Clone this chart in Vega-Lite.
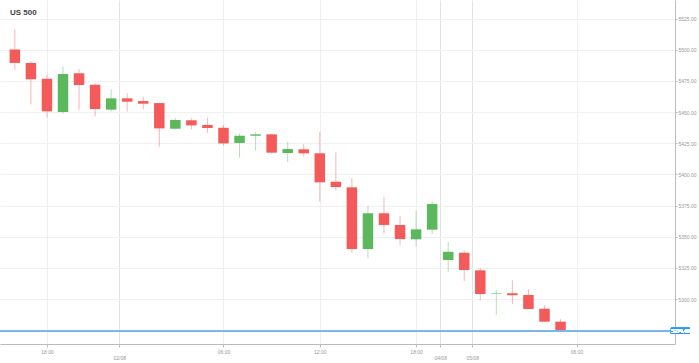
{
  "$schema": "https://vega.github.io/schema/vega-lite/v6.json",
  "width": 675,
  "height": 344,
  "autosize": {"type": "none"},
  "padding": {"left": 0, "top": 0, "right": 24, "bottom": 19},
  "background": "white",
  "title": {
    "text": "US 500",
    "anchor": "start",
    "frame": "group",
    "orient": "top",
    "offset": -25,
    "baseline": "bottom",
    "dx": 10,
    "font": "Liberation Sans",
    "fontSize": 8,
    "fontWeight": "bold",
    "color": "#444444"
  },
  "config": {
    "view": {"stroke": null},
    "axis": {
      "labelFont": "Liberation Sans",
      "labelFontSize": 5,
      "labelColor": "#999999",
      "domainColor": "#bbbbbb",
      "tickColor": "#bbbbbb",
      "gridColor": "#f0f0f0",
      "labelOverlap": false,
      "title": null
    }
  },
  "data": {
    "values": [
      {"i": 0, "o": 5500.2, "h": 5516.4, "l": 5483.7, "c": 5489.4},
      {"i": 1, "o": 5489.3, "h": 5490.9, "l": 5456.2, "c": 5476.3},
      {"i": 2, "o": 5476.7, "h": 5479.9, "l": 5445.8, "c": 5450.6},
      {"i": 3, "o": 5450.0, "h": 5486.4, "l": 5448.7, "c": 5480.5},
      {"i": 4, "o": 5481.1, "h": 5484.5, "l": 5451.9, "c": 5471.7},
      {"i": 5, "o": 5471.9, "h": 5473.3, "l": 5446.6, "c": 5452.4},
      {"i": 6, "o": 5451.9, "h": 5468.5, "l": 5450.3, "c": 5461.0},
      {"i": 7, "o": 5461.0, "h": 5465.0, "l": 5450.3, "c": 5458.3},
      {"i": 8, "o": 5458.8, "h": 5462.3, "l": 5452.2, "c": 5456.7},
      {"i": 9, "o": 5457.2, "h": 5457.5, "l": 5422.2, "c": 5436.9},
      {"i": 10, "o": 5436.6, "h": 5445.2, "l": 5436.0, "c": 5443.6},
      {"i": 11, "o": 5443.4, "h": 5445.0, "l": 5436.1, "c": 5439.3},
      {"i": 12, "o": 5439.6, "h": 5445.4, "l": 5433.4, "c": 5437.2},
      {"i": 13, "o": 5437.4, "h": 5439.6, "l": 5423.3, "c": 5424.9},
      {"i": 14, "o": 5425.2, "h": 5432.9, "l": 5413.4, "c": 5431.0},
      {"i": 15, "o": 5431.0, "h": 5433.7, "l": 5419.3, "c": 5432.1},
      {"i": 16, "o": 5432.1, "h": 5432.5, "l": 5417.0, "c": 5417.4},
      {"i": 17, "o": 5417.1, "h": 5426.0, "l": 5409.9, "c": 5420.3},
      {"i": 18, "o": 5420.1, "h": 5424.3, "l": 5414.2, "c": 5416.9},
      {"i": 19, "o": 5416.9, "h": 5434.2, "l": 5378.1, "c": 5393.6},
      {"i": 20, "o": 5394.1, "h": 5417.9, "l": 5386.9, "c": 5389.8},
      {"i": 21, "o": 5389.6, "h": 5397.1, "l": 5337.1, "c": 5340.1},
      {"i": 22, "o": 5340.1, "h": 5374.6, "l": 5332.7, "c": 5368.8},
      {"i": 23, "o": 5368.8, "h": 5382.1, "l": 5352.7, "c": 5359.4},
      {"i": 24, "o": 5359.4, "h": 5366.8, "l": 5343.1, "c": 5348.1},
      {"i": 25, "o": 5347.9, "h": 5370.6, "l": 5341.9, "c": 5355.9},
      {"i": 26, "o": 5355.6, "h": 5378.6, "l": 5352.2, "c": 5376.2},
      {"i": 27, "o": 5331.3, "h": 5345.7, "l": 5321.9, "c": 5337.9},
      {"i": 28, "o": 5337.1, "h": 5338.7, "l": 5314.4, "c": 5323.3},
      {"i": 29, "o": 5323.0, "h": 5324.9, "l": 5299.2, "c": 5304.0},
      {"i": 30, "o": 5304.2, "h": 5307.0, "l": 5287.4, "c": 5304.6},
      {"i": 31, "o": 5304.6, "h": 5315.0, "l": 5296.0, "c": 5303.0},
      {"i": 32, "o": 5303.2, "h": 5308.0, "l": 5292.0, "c": 5292.0},
      {"i": 33, "o": 5292.2, "h": 5295.0, "l": 5281.8, "c": 5281.8},
      {"i": 34, "o": 5281.8, "h": 5283.7, "l": 5274.4, "c": 5274.4}
    ]
  },
  "layer": [
    {
      "mark": {"type": "rule", "strokeWidth": 1, "opacity": 0.45},
      "encoding": {
        "x": {
          "field": "i",
          "type": "quantitative",
          "scale": {"domain": [-0.614, 40.82], "nice": false, "zero": false},
          "axis": {
            "orient": "bottom",
            "values": [2, 6.5, 13, 19, 25, 26.5, 28.5, 35],
            "tickCount": 20,
            "labelExpr": "datum.value == 2 ? '18:00' : datum.value == 6.5 ? ['', '02/08'] : datum.value == 13 ? '06:00' : datum.value == 19 ? '12:00' : datum.value == 25 ? '18:00' : datum.value == 26.5 ? ['', '04/08'] : datum.value == 28.5 ? ['', '05/08'] : '06:00'",
            "labelLineHeight": 6.5,
            "labelPadding": 2,
            "labelBaseline": "top",
            "labelOverlap": false,
            "tickSize": 3,
            "grid": true,
            "gridColor": {"condition": {"test": "datum.value == 6.5 || datum.value == 26.5 || datum.value == 28.5", "value": "#e2e2e2"}, "value": "#efefef"}
          }
        },
        "y": {
          "field": "l",
          "type": "quantitative",
          "scale": {"domain": [5263.9, 5539.9], "nice": false, "zero": false},
          "axis": {
            "orient": "right",
            "values": [5300, 5325, 5350, 5375, 5400, 5425, 5450, 5475, 5500, 5525],
            "tickCount": 20,
            "labelExpr": "format(datum.value, '.2f')",
            "labelOverlap": false,
            "tickSize": 2,
            "labelPadding": 1,
            "grid": true
          }
        },
        "y2": {"field": "h"},
        "color": {
          "condition": {"test": "datum.c >= datum.o", "value": "#5cb85c"},
          "value": "#f55a5a"
        }
      }
    },
    {
      "mark": {"type": "bar", "size": 10.5},
      "encoding": {
        "x": {"field": "i", "type": "quantitative"},
        "y": {"field": "o", "type": "quantitative"},
        "y2": {"field": "c"},
        "color": {
          "condition": {"test": "datum.c >= datum.o", "value": "#5cb85c"},
          "value": "#f55a5a"
        }
      }
    },
    {
      "mark": {"type": "rule", "color": "#7ab8ea", "strokeWidth": 1},
      "encoding": {"y": {"datum": 5274.4, "type": "quantitative"}}
    },
    {
      "mark": {"type": "rect", "color": "#2b9af3", "clip": false},
      "encoding": {
        "x": {"datum": 40.88, "type": "quantitative"},
        "x2": {"datum": 42.05},
        "y": {"datum": 5276.8, "type": "quantitative"},
        "y2": {"datum": 5271.9}
      }
    },
    {
      "mark": {"type": "text", "color": "white", "font": "Liberation Sans", "fontSize": 5, "align": "center", "baseline": "middle", "clip": false},
      "encoding": {
        "x": {"datum": 41.47, "type": "quantitative"},
        "y": {"datum": 5274.4, "type": "quantitative"},
        "text": {"value": "5274.40"}
      }
    }
  ]
}
